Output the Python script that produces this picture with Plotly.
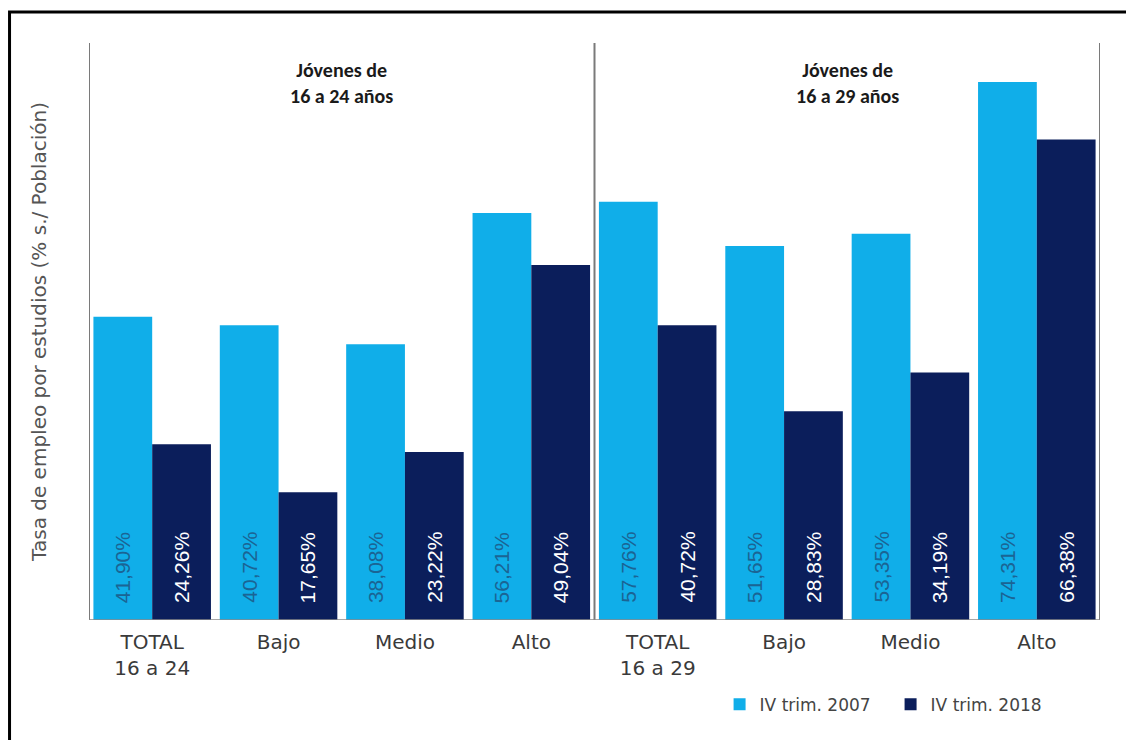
import plotly.graph_objects as go

categories = ["TOTAL<br>16 a 24", "Bajo", "Medio", "Alto",
              "TOTAL<br>16 a 29", "Bajo", "Medio", "Alto"]
serie_2007 = [41.90, 40.72, 38.08, 56.21, 57.76, 51.65, 53.35, 74.31]
serie_2018 = [24.26, 17.65, 23.22, 49.04, 40.72, 28.83, 34.19, 66.38]
series_names = ["IV trim. 2007", "IV trim. 2018"]
group_titles = ["Jóvenes de<br>16 a 24 años", "Jóvenes de<br>16 a 29 años"]

LIGHT = "#10aee9"
DARK = "#0b1e5b"
FONT = "Liberation Sans"
WIDE = "DejaVu Sans"
BARGAP = 0.07

xpos = list(range(len(categories)))

def fmt(v):
    return f"{v:.2f}".replace(".", ",") + "%"

fig = go.Figure()
fig.add_trace(go.Bar(x=xpos, y=serie_2007, name=series_names[0],
                     marker_color=LIGHT, marker_line_width=0))
fig.add_trace(go.Bar(x=xpos, y=serie_2018, name=series_names[1],
                     marker_color=DARK, marker_line_width=0))

# value labels, rotated, near the base of each bar
half = (1 - BARGAP) / 4
for series, off, col in [(serie_2007, -half, "#1b6494"), (serie_2018, half, "white")]:
    for xi, v in zip(xpos, series):
        fig.add_annotation(x=xi + off, y=0, xref="x", yref="y", text=fmt(v),
                           textangle=-90, showarrow=False, yanchor="bottom",
                           xanchor="center", yshift=15,
                           font=dict(family=FONT, size=21, color=col))

# separator lines
for xv in [-0.5, 3.5, 7.5]:
    fig.add_shape(type="line", xref="x", yref="paper", x0=xv, x1=xv, y0=0, y1=1,
                  line=dict(color="#7a7a7a", width=2))
# baseline
fig.add_shape(type="line", xref="paper", yref="y", x0=0, x1=1, y0=0, y1=0,
              line=dict(color="#8a8a8a", width=1.5))
# outer frame (top and left visible)
fig.add_shape(type="rect", xref="paper", yref="paper",
              x0=-0.0786, x1=1.06, y0=-0.25, y1=1.0537,
              line=dict(color="black", width=3), layer="above")

for i, t in enumerate(group_titles):
    fig.add_annotation(x=1.5 + 4 * i, y=1.0, xref="x", yref="paper",
                       text=f"<b>{t}</b>", showarrow=False, yanchor="top",
                       yshift=-13,
                       font=dict(family="Carlito, Liberation Sans", size=20, color="#1a1a1a"))

fig.update_layout(
    width=1134, height=740,
    margin=dict(l=81, r=42, t=35, b=128),
    paper_bgcolor="white", plot_bgcolor="white",
    barmode="group", bargap=BARGAP, bargroupgap=0,
    showlegend=True,
    legend=dict(orientation="h", x=0.962, xanchor="right", y=-0.147, yanchor="middle",
                font=dict(family=WIDE, size=17, color="#444444"),
                itemwidth=30, entrywidth=126, entrywidthmode="pixels",
                traceorder="normal"),
    xaxis=dict(tickmode="array", tickvals=xpos, ticktext=categories,
               range=[-0.5, 7.5], showgrid=False, zeroline=False,
               ticklabelstandoff=8,
               tickfont=dict(family=WIDE, size=20, color="#3a3a3a"), ticks=""),
    yaxis=dict(range=[0, 79.7], showticklabels=False, showgrid=False,
               zeroline=False, ticks="",
               title=dict(text="Tasa de empleo por estudios (% s./ Población)",
                          font=dict(family=WIDE, size=20, color="#555555"),
                          standoff=36)),
    font=dict(family=FONT),
)

fig.write_html("out.html")
